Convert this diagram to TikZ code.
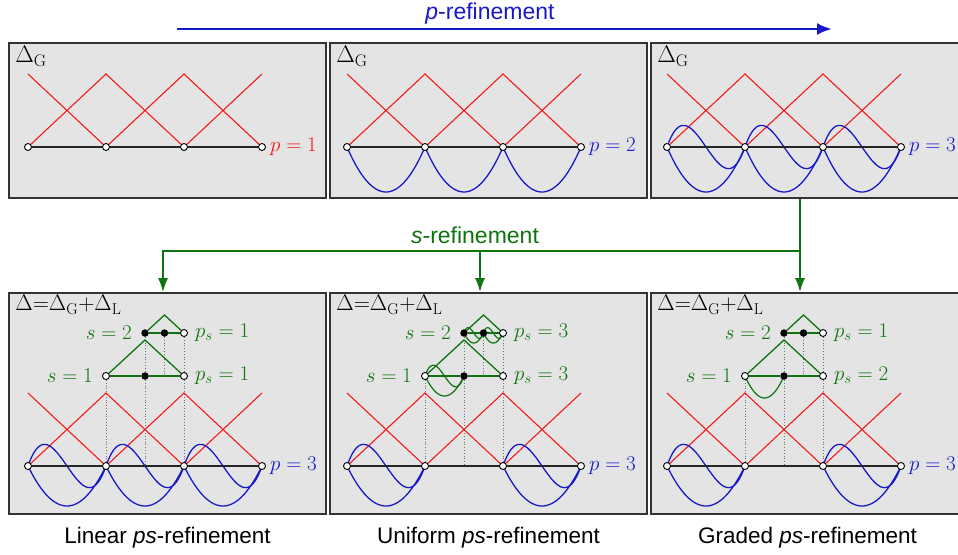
\RequirePackage{fix-cm}
\documentclass[tikz,border=0pt]{standalone}
\usepackage{fontspec}
\setsansfont{Liberation Sans}
\usetikzlibrary{positioning,arrows.meta,calc}

\definecolor{panelgray}{RGB}{228,228,228}
\definecolor{hatred}{RGB}{245,25,25}
\definecolor{modeblue}{RGB}{25,25,200}
\definecolor{levelgreen}{RGB}{15,115,15}

\begin{document}
\begin{tikzpicture}[x=1pt, y=-1pt]
    % Define styles
    \tikzstyle{panel} = [rectangle, draw=black!80, line width=1.6pt, fill=panelgray, minimum width=317pt, inner sep=0pt]
    \tikzstyle{opennode} = [circle, draw=black, fill=white, line width=0.9pt, minimum size=7pt, inner sep=0pt]
    \tikzstyle{dotnode} = [circle, fill=black, minimum size=7.5pt, inner sep=0pt]
    \tikzstyle{redhat} = [hatred, line width=1.1pt]
    \tikzstyle{bubble} = [modeblue, line width=1.3pt, variable=\t, domain=0:1, samples=41]
    \tikzstyle{levelcurve} = [levelgreen, line width=1.2pt, variable=\t, domain=0:1, samples=31]
    \tikzstyle{meshline} = [black!85, line width=1.3pt]
    \tikzstyle{levelline} = [levelgreen, line width=1.3pt]
    \tikzstyle{guideline} = [black!55, dotted, line width=0.8pt]
    \tikzstyle{mathlabel} = [inner sep=1pt, font=\fontsize{21}{25}\selectfont]
    \tikzstyle{reflabel} = [anchor=base, font=\sffamily\fontsize{23}{27}\selectfont]
    \tikzstyle{bottomlabel} = [anchor=base, font=\sffamily\fontsize{22.5}{27}\selectfont]
    \tikzstyle{parrow} = [modeblue, line width=2.6pt, -{Latex[length=15pt,width=12pt]}]
    \tikzstyle{sarrow} = [levelgreen, line width=2pt, -{Latex[length=14pt,width=10pt]}]

    \useasboundingbox (0,0) rectangle (958,554);

    % Panels
    \node [panel, minimum height=155pt] (a) at (167.5,120.5) {};
    \node [panel, minimum height=155pt] (b) at (488.5,120.5) {};
    \node [panel, minimum height=155pt] (c) at (809.5,120.5) {};
    \node [panel, minimum height=221pt] (d) at (167.5,403.5) {};
    \node [panel, minimum height=221pt] (e) at (488.5,403.5) {};
    \node [panel, minimum height=221pt] (f) at (809.5,403.5) {};

    % Panel titles
    \foreach \pn in {a,b,c}
        \node [mathlabel, anchor=north west, font=\fontsize{24}{28}\selectfont] (\pn lab) at ($(\pn.north west)+(6,3)$) {$\Delta_{\mathrm{G}}$};
    \foreach \pn in {d,e,f}
        \node [mathlabel, anchor=north west, font=\fontsize{22.5}{26}\selectfont] (\pn lab) at ($(\pn.north west)+(6,2)$) {$\Delta{=}\Delta_{\mathrm{G}}{+}\Delta_{\mathrm{L}}$};

    % Linear hat functions
    \foreach \xa/\ya in {28/147, 347/147, 667/147, 28/466, 347/466, 667/466} {
        \draw [redhat] (\xa,\ya-73) -- (\xa+78,\ya) -- (\xa+156,\ya-73) -- (\xa+234,\ya);
        \draw [redhat] (\xa,\ya) -- (\xa+78,\ya-73) -- (\xa+156,\ya) -- (\xa+234,\ya-73);
    }

    % Higher order modes
    \foreach \xa/\ya/\dq in {347/147/180, 425/147/180, 503/147/180, 667/147/180, 745/147/180, 823/147/180, 28/466/160, 106/466/160, 184/466/160, 347/466/160, 503/466/160, 667/466/160, 823/466/160}
        \draw [bubble] plot ({\xa+78*\t}, {\ya+\dq*\t*(1-\t)});
    \foreach \xa/\ya in {667/147, 745/147, 823/147, 28/466, 106/466, 184/466, 347/466, 503/466, 667/466, 823/466}
        \draw [bubble] plot ({\xa+78*\t}, {\ya-225*\t*(1-\t)*(1-2*\t)});

    % Local modes
    \draw [levelcurve] plot ({425+39*\t}, {376+80*\t*(1-\t)});
    \draw [levelcurve] plot ({425+39*\t}, {376-112*\t*(1-\t)*(1-2*\t)});
    \foreach \xa in {464, 483.5} {
        \draw [levelcurve] plot ({\xa+19.5*\t}, {333+40*\t*(1-\t)});
        \draw [levelcurve] plot ({\xa+19.5*\t}, {333-56*\t*(1-\t)*(1-2*\t)});
    }
    \draw [levelcurve] plot ({745+39*\t}, {376+88*\t*(1-\t)});

    % Global mesh
    \foreach \pn/\xa/\ya in {a/28/147, b/347/147, c/667/147, d/28/466, e/347/466, f/667/466} {
        \foreach \i in {0,...,3}
            \node [opennode] (\pn\i) at (\xa+78*\i,\ya) {};
        \draw [meshline] (\pn0) -- (\pn1) -- (\pn2) -- (\pn3);
    }
    \node [mathlabel, right=3pt of a3, text=hatred] (apdeg) {$p=1$};
    \node [mathlabel, right=3pt of b3, text=modeblue] (bpdeg) {$p=2$};
    \node [mathlabel, right=3pt of c3, text=modeblue] (cpdeg) {$p=3$};
    \node [mathlabel, right=3pt of d3, text=modeblue] (dpdeg) {$p=3$};
    \node [mathlabel, right=3pt of e3, text=modeblue] (epdeg) {$p=3$};
    \node [mathlabel, right=3pt of f3, text=modeblue] (fpdeg) {$p=3$};

    % Local levels
    \foreach \pn/\xa/\pa/\pb in {d/106/1/1, e/425/3/3, f/745/2/1} {
        \node [opennode] (\pn s1l) at (\xa,376) {};
        \node [dotnode] (\pn s1m) at (\xa+39,376) {};
        \node [opennode] (\pn s1r) at (\xa+78,376) {};
        \node [dotnode] (\pn s2l) at (\xa+39,333) {};
        \node [dotnode] (\pn s2m) at (\xa+58.5,333) {};
        \node [opennode] (\pn s2r) at (\xa+78,333) {};
        \draw [guideline] (\pn s1l) -- (\pn1);
        \draw [guideline] (\pn s2l) -- (\pn s1m) -- (\pn s1m |- \pn0);
        \draw [guideline] (\pn s2r) -- (\pn s1r) -- (\pn2);
        \draw [guideline] (\pn s2m) -- (\pn s2m |- \pn s1m);
        \draw [levelline] (\pn s1l) -- (\pn s1m) -- (\pn s1r);
        \draw [levelline] (\pn s1l) -- ($(\pn s1m)+(0,-36)$) -- (\pn s1r);
        \draw [levelline] (\pn s2l) -- (\pn s2m) -- (\pn s2r);
        \draw [levelline] (\pn s2l) -- ($(\pn s2m)+(0,-18)$) -- (\pn s2r);
        \node [mathlabel, text=levelgreen, left=8pt of \pn s1l] (\pn s1lab) {$s=1$};
        \node [mathlabel, text=levelgreen, left=8pt of \pn s2l] (\pn s2lab) {$s=2$};
        \node [mathlabel, text=levelgreen, right=6pt of \pn s1r] (\pn s1deg) {$p_s=\pa$};
        \node [mathlabel, text=levelgreen, right=6pt of \pn s2r] (\pn s2deg) {$p_s=\pb$};
    }

    % p-refinement
    \coordinate (pstart) at (177,29);
    \coordinate (pend) at (832,29);
    \draw [parrow] (pstart) -- (pend);
    \node [reflabel, text=modeblue] (plab) at (490,19) {\textit{p}-refinement};

    % s-refinement
    \coordinate (sjoin) at (800,251);
    \coordinate (sleft) at (163,251);
    \coordinate (smid) at (480,251);
    \draw [sarrow] (c.south -| sjoin) -- (f.north -| sjoin);
    \draw [sarrow] (sjoin) -| (d.north -| sleft);
    \draw [sarrow] (smid) -- (e.north -| smid);
    \node [reflabel, text=levelgreen] (slab) at (475,243) {\textit{s}-refinement};

    % Captions
    \node [bottomlabel] (dcap) at ($(d.south)+(0,29)$) {Linear \textit{ps}-refinement};
    \node [bottomlabel] (ecap) at ($(e.south)+(0,29)$) {Uniform \textit{ps}-refinement};
    \node [bottomlabel] (fcap) at ($(f.south)+(-2,29)$) {Graded \textit{ps}-refinement};
\end{tikzpicture}
\end{document}
